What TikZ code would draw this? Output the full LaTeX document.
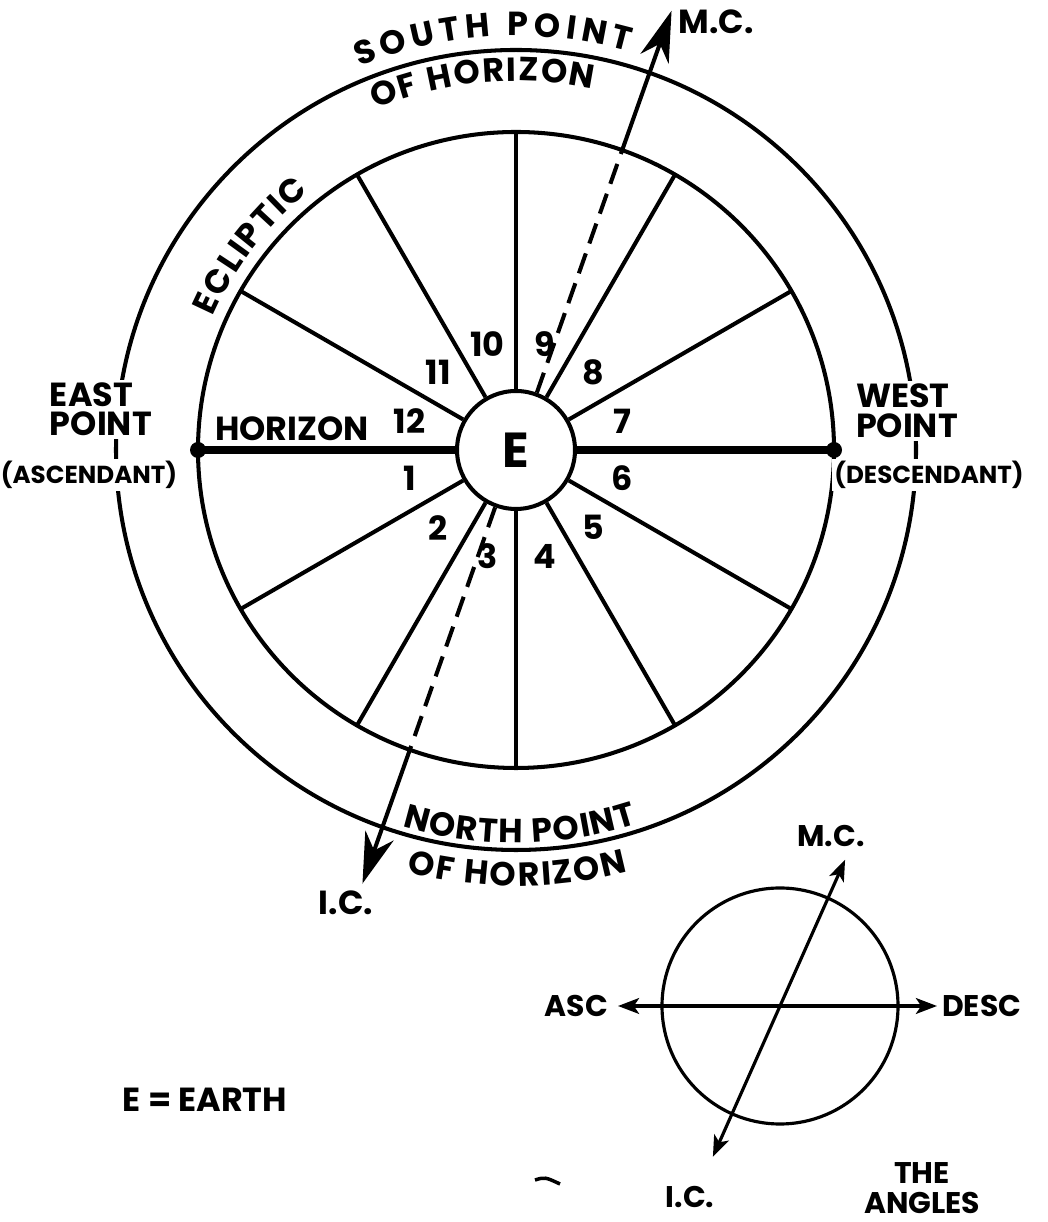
\documentclass[tikz,border=0pt]{standalone}
\usepackage{fontspec}
\setmainfont{Poppins}
\usetikzlibrary{arrows.meta,decorations.text,calc}
\newcommand\curvefont{\bfseries\fontsize{19}{19}\selectfont}

\begin{document}
\begin{tikzpicture}[x=0.02cm,y=0.02cm,
  wheelline/.style={line width=2.3pt},
  horizonline/.style={line width=4.4pt},
  lbl/.style={font=\bfseries\fontsize{19}{19}\selectfont,inner sep=1pt},
  ptlbl/.style={lbl,fill=white,inner sep=1.5pt},
  sublbl/.style={ptlbl,font=\bfseries\fontsize{14}{14}\selectfont},
  smalllbl/.style={font=\bfseries\fontsize{17}{17}\selectfont,inner sep=1pt},
  bigarrow/.style={wheelline,-{Stealth[length=29pt,width=17pt,inset=9pt]}},
  smallarrow/.style={line width=1.8pt},
  arctext/.style={decorate,decoration={text along path,text={|\curvefont|#1},text align={fit to path}}}]
 \useasboundingbox (0,0) rectangle (1047,1222);
 % the wheel of houses
 \begin{scope}[shift={(516,772)}]
  \draw[wheelline] (0,0) circle[radius=400];
  \draw[wheelline] (0,0) circle[radius=318];
  \node[circle,draw,line width=2.3pt,fill=white,minimum size=2.36cm,
        font=\bfseries\fontsize{28}{28}\selectfont] (E) at (0,0) {E};
  \foreach \a in {30,60,90,120,150,210,240,270,300,330}
   \draw[wheelline] (E.\a) -- (\a:318);
  \coordinate (asc) at (180:318);
  \coordinate (desc) at (0:318);
  \draw[horizonline] (asc) -- (E.west);
  \draw[horizonline] (E.east) -- (desc);
  \fill (asc) circle[radius=8];
  \fill (desc) circle[radius=8];
  \foreach \k in {1,...,12}
   \node[lbl] (h\k) at (165+30*\k:110) {\k};
  % meridian
  \coordinate (mc) at (70.5:466);
  \coordinate (ic) at (250.5:460);
  \draw[wheelline,dash pattern=on 12pt off 6pt] (E.70.5) -- (70.5:318);
  \draw[wheelline,dash pattern=on 12pt off 6pt] (E.250.5) -- (250.5:318);
  \draw[bigarrow] (70.5:318) -- (mc);
  \draw[bigarrow] (250.5:318) -- (ic);
  % curved names
  \path[arctext={SOUTH POINT}] (112.2:414) arc[start angle=112.2,end angle=74.2,radius=414];
  \path[arctext={OF HORIZON}] (112.4:369) arc[start angle=112.4,end angle=78,radius=369];
  \path[arctext={ECLIPTIC}] (156.3:331) arc[start angle=156.3,end angle=128.7,radius=331];
  \path[arctext={NORTH POINT}] (-106.8:393) arc[start angle=-106.8,end angle=-72,radius=393];
  \path[arctext={OF HORIZON}] (-104.5:436) arc[start angle=-104.5,end angle=-75.1,radius=436];
 \end{scope}
 \node[lbl] (mclbl) at (716,1200) {M.C.};
 \node[lbl] (iclbl) at (346,319) {I.C.};
 \node[lbl] (horizon) at (292,793) {HORIZON};
 \node[ptlbl,anchor=west] (east) at (47,827) {EAST};
 \node[ptlbl,anchor=west] (eastpt) at (47,798) {POINT};
 \node[sublbl] (ascdt) at (89,747) {(ASCENDANT)};
 \node[ptlbl,anchor=west] (west) at (853,826) {WEST};
 \node[ptlbl,anchor=west] (westpt) at (853,796) {POINT};
 \node[sublbl] (descdt) at (929,747) {(DESCENDANT)};
 \node[lbl] (earth) at (205,122) {E = EARTH};
 % the angles
 \begin{scope}[shift={(780,216)}]
  \draw[smallarrow] (0,0) circle[radius=118];
  \coordinate (asctip) at (-162,0);
  \coordinate (desctip) at (157,0);
  \coordinate (mctip) at (66:160);
  \coordinate (ictip) at (246:165);
  \draw[smallarrow,{Stealth[length=12pt,width=9pt,inset=3pt]}-{Stealth[length=12pt,width=9pt,inset=3pt]}] (asctip) -- (desctip);
  \draw[smallarrow,{Stealth[length=12pt,width=9pt,inset=3pt]}-{Stealth[length=12pt,width=9pt,inset=3pt]}] (ictip) -- (mctip);
  \node[smalllbl,anchor=east] (asclbl) at (-170,0) {ASC};
  \node[smalllbl,anchor=west] (desclbl) at (160,0) {DESC};
  \node[smalllbl] (mcsmall) at (51,170) {M.C.};
  \node[smalllbl] (icsmall) at (-90,-191) {I.C.};
  \node[smalllbl,align=center] (angles) at (142,-182) {THE\\ANGLES};
 \end{scope}
 \draw[line width=2pt] (535,42) .. controls (545,45) .. (560,38);
\end{tikzpicture}
\end{document}
